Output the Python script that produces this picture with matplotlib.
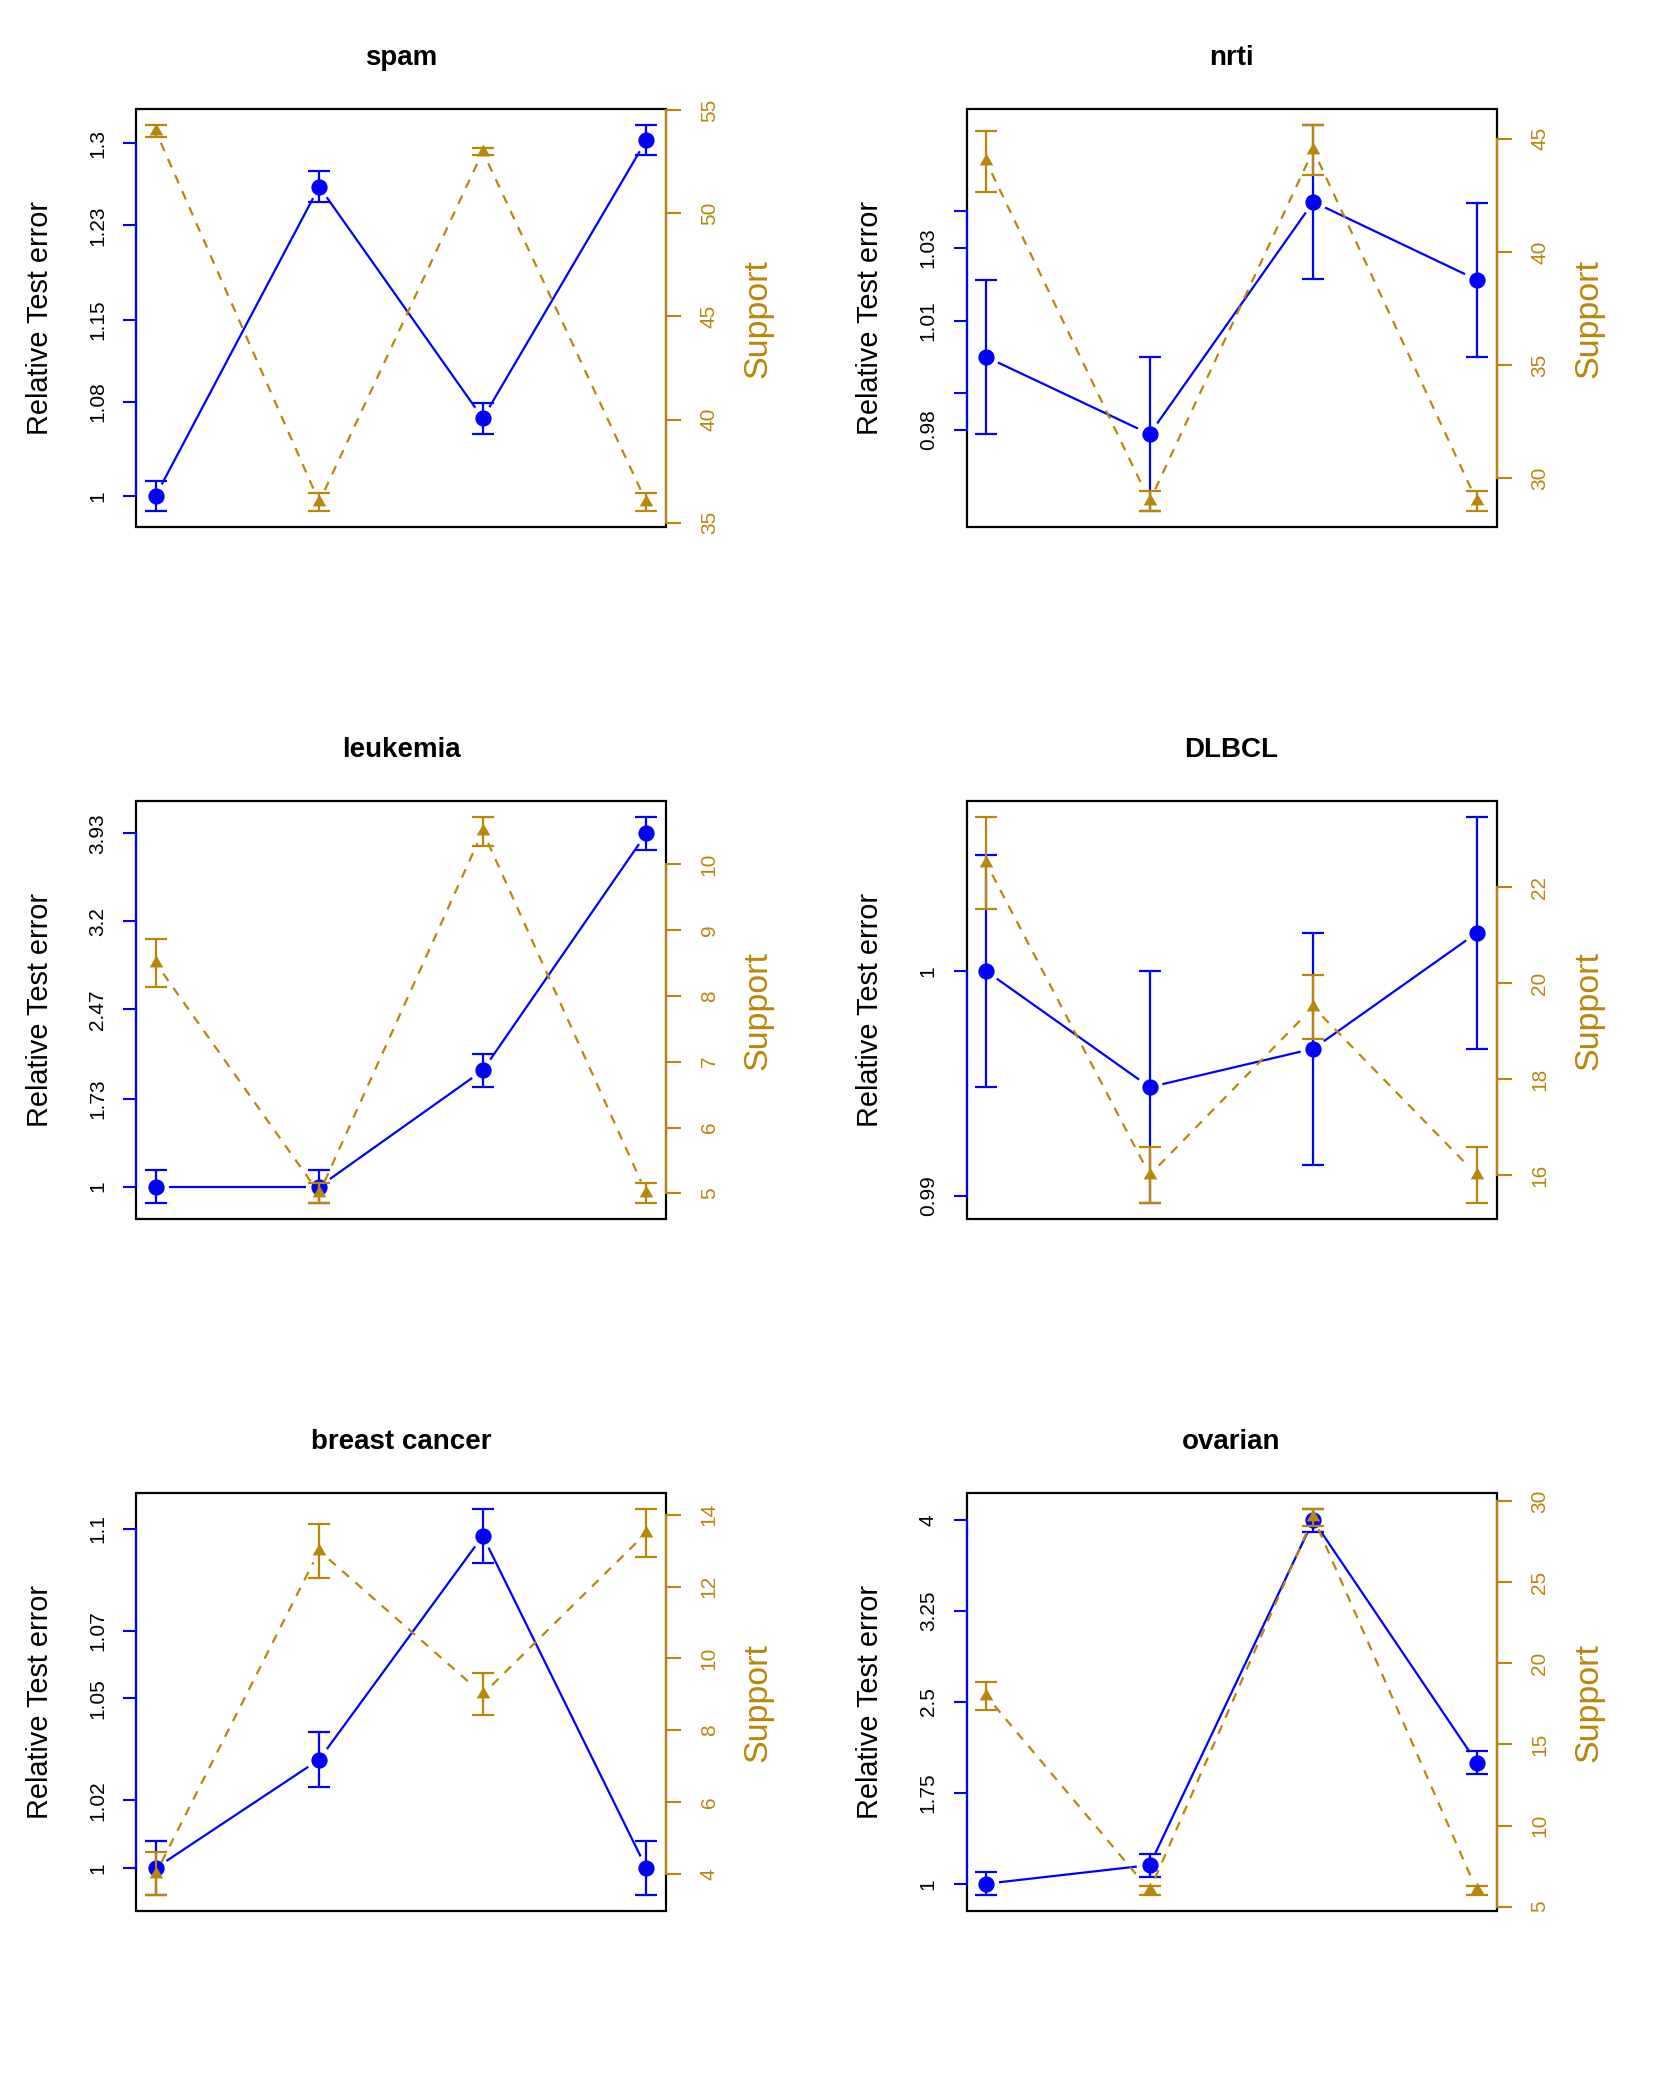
import numpy as np
import matplotlib
matplotlib.use("Agg")
import matplotlib.pyplot as plt
from matplotlib.patches import Rectangle

plt.rcParams['font.family'] = ['Liberation Sans', 'DejaVu Sans']

# ---------------- data ----------------
titles = ["spam", "nrti", "leukemia", "DLBCL", "breast cancer", "ovarian"]
x_pos = [1, 2, 3, 4]

err_spam = [1.0, 1.263, 1.066, 1.3026]
err_nrti = [1.0, 0.9788, 1.0426, 1.0212]
err_leuk = [1.0, 1.0, 1.964, 3.93]
err_dlbcl = [1.0, 0.99484, 0.99655, 1.0017]
err_breast = [1.0, 1.032, 1.0979, 1.0]
err_ovar = [1.0, 1.154, 4.0, 2.0]

errsd_spam = [0.013, 0.013, 0.013, 0.013]
errsd_nrti = [0.0212, 0.0212, 0.0212, 0.0212]
errsd_leuk = [0.138, 0.138, 0.138, 0.138]
errsd_dlbcl = [0.00516, 0.00516, 0.00516, 0.00516]
errsd_breast = [0.008, 0.008, 0.008, 0.008]
errsd_ovar = [0.095, 0.095, 0.095, 0.095]

sup_spam = [54, 36, 53, 36]
sup_nrti = [44, 29, 44.5, 29]
sup_leuk = [8.5, 5, 10.5, 5]
sup_dlbcl = [22.5, 16, 19.5, 16]
sup_breast = [4, 13, 9, 13.5]
sup_ovar = [18, 6, 29, 6]

supsd_spam = [0.3, 0.45, 0.16, 0.45]
supsd_nrti = [1.34, 0.45, 1.12, 0.45]
supsd_leuk = [0.37, 0.15, 0.22, 0.15]
supsd_dlbcl = [0.965, 0.59, 0.67, 0.59]
supsd_breast = [0.6, 0.75, 0.59, 0.67]
supsd_ovar = [0.87, 0.3, 0.53, 0.3]

lt_spam = [1, 1.08, 1.15, 1.23, 1.3]
ll_spam = ["1", "1.08", "1.15", "1.23", "1.3"]
lt_nrti = [0.98, 0.99, 1.01, 1.03, 1.04]
ll_nrti = ["0.98", "", "1.01", "1.03", ""]
lt_leuk = [1, 1.73, 2.47, 3.2, 3.93]
ll_leuk = ["1", "1.73", "2.47", "3.2", "3.93"]
lt_dlbcl = [0.99, 1.0]
ll_dlbcl = ["0.99", "1"]
lt_breast = [1, 1.02, 1.05, 1.07, 1.1]
ll_breast = ["1", "1.02", "1.05", "1.07", "1.1"]
lt_ovar = [1, 1.75, 2.5, 3.25, 4]
ll_ovar = ["1", "1.75", "2.5", "3.25", "4"]

rt_spam = [35, 40, 45, 50, 55]
rt_nrti = [30, 35, 40, 45]
rt_leuk = [5, 6, 7, 8, 9, 10]
rt_dlbcl = [16, 18, 20, 22]
rt_breast = [4, 6, 8, 10, 12, 14]
rt_ovar = [5, 10, 15, 20, 25, 30]

err_means = [err_spam, err_nrti, err_leuk, err_dlbcl, err_breast, err_ovar]
err_sds = [errsd_spam, errsd_nrti, errsd_leuk, errsd_dlbcl, errsd_breast, errsd_ovar]
sup_means = [sup_spam, sup_nrti, sup_leuk, sup_dlbcl, sup_breast, sup_ovar]
sup_sds = [supsd_spam, supsd_nrti, supsd_leuk, supsd_dlbcl, supsd_breast, supsd_ovar]
left_ticks = [lt_spam, lt_nrti, lt_leuk, lt_dlbcl, lt_breast, lt_ovar]
left_labels = [ll_spam, ll_nrti, ll_leuk, ll_dlbcl, ll_breast, ll_ovar]
right_ticks = [rt_spam, rt_nrti, rt_leuk, rt_dlbcl, rt_breast, rt_ovar]

# ---------------- style ----------------
BLUE = "#0000FF"
GOLD = "#B8860B"
W, H = 1661, 2076
DPI = 100
GAP = 13.0  # px gap around points (R type="b")

fig = plt.figure(figsize=(W / DPI, H / DPI), dpi=DPI)
fig.patch.set_facecolor("white")

col_left = [136.0, 966.5]
ax_w = 530.0
row_top = [109.3, 801.3, 1493.3]
ax_h = 417.4

tri = [(-1, -0.577), (1, -0.577), (0, 1.155), (-1, -0.577)]


def rlim(vals):
    lo, hi = min(vals), max(vals)
    d = (hi - lo) * 0.04
    return lo - d, hi + d


def gapped(ax, x, y, **kw):
    pts = ax.transData.transform(np.column_stack([x, y]))
    inv = ax.transData.inverted()
    for i in range(len(x) - 1):
        p0, p1 = pts[i], pts[i + 1]
        d = p1 - p0
        L = np.hypot(d[0], d[1])
        if L <= 2 * GAP:
            continue
        u = d / L
        seg = inv.transform(np.array([p0 + u * GAP, p1 - u * GAP]))
        ax.plot(seg[:, 0], seg[:, 1], **kw)


for k in range(6):
    r, c = divmod(k, 2)
    left = col_left[c]
    top = row_top[r]
    rect = [left / W, 1 - (top + ax_h) / H, ax_w / W, ax_h / H]
    ax = fig.add_axes(rect)
    ax2 = ax.twinx()

    x = np.array(x_pos, dtype=float)
    em = np.array(err_means[k]); es = np.array(err_sds[k])
    sm = np.array(sup_means[k]); ss = np.array(sup_sds[k])

    ax.set_xlim(0.88, 4.12)
    ax2.set_xlim(0.88, 4.12)
    ax.set_ylim(*rlim(list(em - es) + list(em + es)))
    ax2.set_ylim(*rlim(list(sm - ss) + list(sm + ss)))

    # box
    for s in ax.spines.values():
        s.set_visible(False)
    for s in ax2.spines.values():
        s.set_visible(False)
    ax.add_patch(Rectangle((0, 0), 1, 1, transform=ax.transAxes, fill=False,
                           edgecolor="black", lw=1.6, zorder=2.4, clip_on=False))

    # left axis (blue)
    lt = left_ticks[k]
    ax.spines['left'].set_visible(True)
    ax.spines['left'].set_color(BLUE)
    ax.spines['left'].set_linewidth(1.5)
    ax.spines['left'].set_bounds(min(lt), max(lt))
    ax.spines['left'].set_zorder(2.6)
    ax.set_yticks(lt)
    ax.set_yticklabels(left_labels[k], rotation=90, va='center', ha='right',
                       fontsize=15, color='black')
    ax.tick_params(axis='y', which='both', direction='out', length=9.7, width=1.5,
                   color=BLUE, pad=11, left=True, right=False)
    ax.set_xticks([])

    # right axis (gold)
    rt = right_ticks[k]
    ax2.spines['right'].set_visible(True)
    ax2.spines['right'].set_color(GOLD)
    ax2.spines['right'].set_linewidth(1.5)
    ax2.spines['right'].set_bounds(min(rt), max(rt))
    ax2.set_yticks(rt)
    ax2.set_yticklabels([str(v) for v in rt], rotation=90, va='center', ha='left',
                        fontsize=15, color=GOLD)
    ax2.tick_params(axis='y', which='both', direction='out', length=10.8, width=1.5,
                    color=GOLD, pad=13.5, left=False, right=True)
    ax2.set_xticks([])

    # blue series
    ax.errorbar(x, em, yerr=es, fmt='none', ecolor=BLUE, elinewidth=1.6,
                capsize=7.9, capthick=1.6, zorder=3)
    gapped(ax, x, em, color=BLUE, lw=1.6, solid_capstyle='butt', zorder=3)
    ax.plot(x, em, linestyle='none', marker='o', ms=11.7, color=BLUE,
            markeredgewidth=0, zorder=4)

    # gold series
    ax2.errorbar(x, sm, yerr=ss, fmt='none', ecolor=GOLD, elinewidth=1.6,
                 capsize=7.9, capthick=1.6, zorder=3)
    gapped(ax2, x, sm, color=GOLD, lw=1.6, dashes=(4.1, 3.8),
           dash_capstyle='butt', zorder=3)
    ax2.plot(x, sm, linestyle='none', marker=tri, ms=11.3, color=GOLD,
             markeredgewidth=0, zorder=4)

    # labels and title
    cy = 1 - (top + ax_h / 2) / H
    fig.text((left - 96) / W, cy, "Relative Test error", rotation=90,
             ha='center', va='center', fontsize=20.8, color='black')
    fig.text((left + ax_w + 92) / W, cy, "Support", rotation=90,
             ha='center', va='center', fontsize=24.5, color=GOLD)
    fig.text((left + ax_w / 2) / W, 1 - (top - 44.5) / H, titles[k],
             ha='center', va='baseline', fontsize=20, fontweight='bold',
             color='black')

fig.savefig("out.png", dpi=DPI, facecolor="white")
